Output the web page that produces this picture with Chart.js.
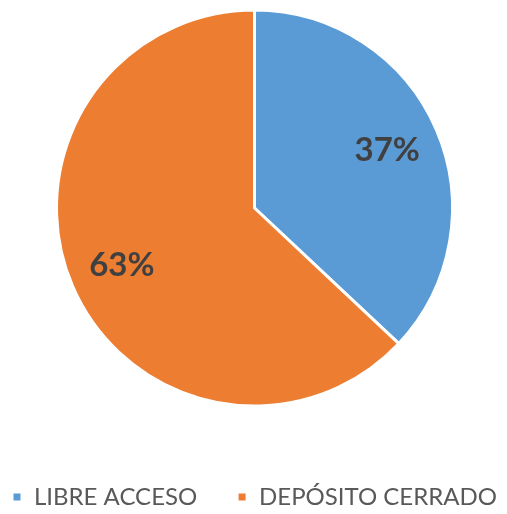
<!DOCTYPE html>
<html lang="es">
<head>
    <meta charset="UTF-8">
    <title>Libre acceso vs depósito cerrado</title>
    <script src="https://cdn.jsdelivr.net/npm/chart.js"></script>
    <style>
        html, body { margin: 0; padding: 0; background: #fff; }
        #wrap { width: 507px; height: 514px; }
    </style>
</head>
<body>
    <div id="wrap"><canvas id="myChart"></canvas></div>

    <script>
        const categories = ["LIBRE ACCESO", "DEPÓSITO CERRADO"];
        const values = [37, 63];
        const colors = ["#5B9BD5", "#ED7D31"];

        // porcentajes dentro de cada sector
        const pctLabels = {
            id: "pctLabels",
            afterDatasetsDraw(chart) {
                const ctx = chart.ctx;
                const total = values.reduce((a, b) => a + b, 0);
                chart.getDatasetMeta(0).data.forEach((arc, i) => {
                    const p = arc.getProps(["x", "y", "startAngle", "endAngle", "outerRadius"], true);
                    const mid = (p.startAngle + p.endAngle) / 2;
                    const r = p.outerRadius * 0.73;
                    ctx.save();
                    ctx.font = "bold 33px Lato";
                    ctx.fillStyle = "#404040";
                    ctx.textAlign = "center";
                    ctx.textBaseline = "middle";
                    ctx.fillText(Math.round(values[i] / total * 100) + "%", p.x + Math.cos(mid) * r, p.y + Math.sin(mid) * r);
                    ctx.restore();
                });
            }
        };

        new Chart(document.getElementById("myChart"), {
            type: "pie",
            data: {
                labels: categories,
                datasets: [{
                    data: values,
                    backgroundColor: colors,
                    borderColor: "#ffffff",
                    borderWidth: 3,
                    radius: 198
                }]
            },
            options: {
                responsive: true,
                maintainAspectRatio: false,
                animation: false,
                layout: { padding: { left: 2, bottom: -5 } },
                plugins: {
                    tooltip: { enabled: false },
                    legend: {
                        position: "bottom",
                        // título vacío solo para bajar la leyenda
                        title: { display: true, text: "", font: { size: 1, lineHeight: 1 }, padding: { top: 65, bottom: 0 } },
                        labels: {
                            boxWidth: 10,
                            boxHeight: 10,
                            padding: 3,
                            color: "#595959",
                            font: { family: "Lato", size: 24 },
                            generateLabels(chart) {
                                const items = Chart.overrides.pie.plugins.legend.labels.generateLabels(chart);
                                items.forEach((it, i) => {
                                    if (i < items.length - 1) it.text = it.text + " ".repeat(6);
                                });
                                return items;
                            }
                        }
                    }
                }
            },
            plugins: [pctLabels]
        });
    </script>
</body>
</html>
